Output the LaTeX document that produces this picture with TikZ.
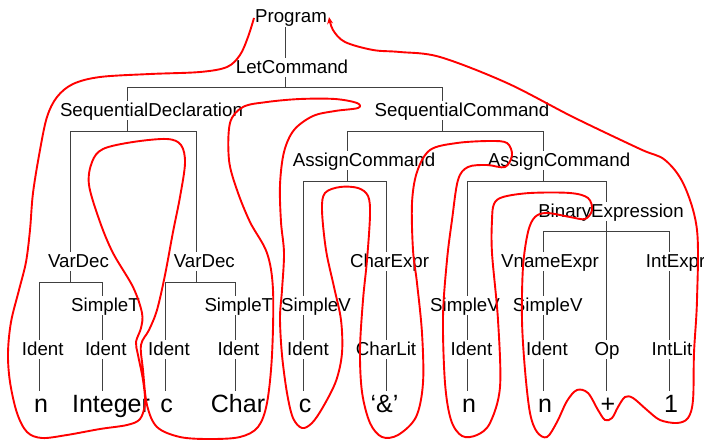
\documentclass[tikz,border=0pt]{standalone}
\usepackage{fontspec}
\setmainfont{Liberation Sans}
\usetikzlibrary{arrows.meta}
\definecolor{tourred}{rgb}{1,0,0}
\definecolor{linegray}{rgb}{.25,.25,.25}

\tikzset{
  lbl/.style = {inner sep=0pt, anchor=base, text height=15pt, text depth=4pt,
                font=\fontsize{18.7}{20}\selectfont},
  tok/.style = {inner sep=0pt, anchor=base, text height=21pt, text depth=2pt,
                font=\fontsize{25}{28}\selectfont},
  branch/.style = {linegray, line width=.8pt},
  tour/.style = {tourred, line width=1.9pt, line join=round,
                 -{Stealth[length=7pt, width=6pt]}}
}

\begin{document}
\begin{tikzpicture}[x=1pt, y=-1pt]
\useasboundingbox (0,0) rectangle (704,439);

%%%%%%%%%%%%%%% labels %%%%%%%%%%%%%%%%
\node[lbl] (prog)  at (291,23)    {Program};
\node[lbl] (letc)  at (292,73)    {LetCommand};
\node[lbl] (sdecl) at (151.5,116) {SequentialDeclaration};
\node[lbl] (scmd)  at (462,116)   {SequentialCommand};
\node[lbl] (acmdA) at (364,166)   {AssignCommand};
\node[lbl] (acmdB) at (559,166)   {AssignCommand};
\node[lbl] (binx)  at (611,217)   {BinaryExpression};
\node[lbl] (vdecA) at (78.5,267)  {VarDec};
\node[lbl] (vdecB) at (204.3,267) {VarDec};
\node[lbl] (chx)   at (389.5,267) {CharExpr};
\node[lbl] (vnx)   at (550,267)   {VnameExpr};
\node[lbl] (intx)  at (675.6,267) {IntExpr};
\node[lbl] (stA)   at (105.5,311) {SimpleT};
\node[lbl] (stB)   at (238.8,311) {SimpleT};
\node[lbl] (svA)   at (316,311)   {SimpleV};
\node[lbl] (svB)   at (465,311)   {SimpleV};
\node[lbl] (svC)   at (547.7,311) {SimpleV};
\node[lbl] (idA)   at (42.7,355)  {Ident};
\node[lbl] (idB)   at (105.8,355) {Ident};
\node[lbl] (idC)   at (169,355)   {Ident};
\node[lbl] (idD)   at (238.5,355) {Ident};
\node[lbl] (idE)   at (308,355)   {Ident};
\node[lbl] (chl)   at (386,355)   {CharLit};
\node[lbl] (idF)   at (471.5,355) {Ident};
\node[lbl] (idG)   at (547,355)   {Ident};
\node[lbl] (op)    at (607,355)   {Op};
\node[lbl] (ilit)  at (672,355)   {IntLit};

%%%%%%%%%%%%%%% tokens %%%%%%%%%%%%%%%%
\node[tok] (lfA) at (41,412)    {n};
\node[tok] (lfB) at (111,412)   {Integer};
\node[tok] (lfC) at (166.7,412) {c};
\node[tok] (lfD) at (238,412)   {Char};
\node[tok] (lfE) at (305,412)   {c};
\node[tok] (lfF) at (384.5,412) {‘\&’};
\node[tok] (lfG) at (469,412)   {n};
\node[tok] (lfH) at (545,412)   {n};
\node[tok] (lfI) at (608,412)   {+};
\node[tok] (lfJ) at (671,412)   {1};

%%%%%%%%%%%%%%% branches %%%%%%%%%%%%%%%%
\draw[branch] (prog.south -| 285,0) -- (letc.north -| 285,0);
\draw[branch] (letc.south -| 285,0) -- (285,87);
\draw[branch] (sdecl.north -| 127,0) -- (127,87) -- (442,87) -- (scmd.north -| 442,0);

\draw[branch] (sdecl.south -| 127,0) -- (127,131.7);
\draw[branch] (vdecA.north -| 70.7,0) -- (70.7,131.7) -- (196.7,131.7) -- (vdecB.north -| 196.7,0);

\draw[branch] (vdecA.south -| 70.7,0) -- (70.7,282.3);
\draw[branch] (idA.north -| 39.3,0) -- (39.3,282.3) -- (102.3,282.3) -- (stA.north -| 102.3,0);
\draw[branch] (stA.south -| 102.3,0) -- (idB.north -| 102.3,0);
\draw[branch] (idA.south -| 39.3,0) -- (lfA.north -| 39.3,0);
\draw[branch] (idB.south -| 102.3,0) -- (lfB.north -| 102.3,0);

\draw[branch] (vdecB.south -| 196.7,0) -- (196.7,282.3);
\draw[branch] (idC.north -| 165.7,0) -- (165.7,282.3) -- (235,282.3) -- (stB.north -| 235,0);
\draw[branch] (stB.south -| 235,0) -- (idD.north -| 235,0);
\draw[branch] (idC.south -| 165.7,0) -- (lfC.north -| 165.7,0);
\draw[branch] (idD.south -| 235,0) -- (lfD.north -| 235,0);

\draw[branch] (scmd.south -| 442,0) -- (442,131.7);
\draw[branch] (acmdA.north -| 347.5,0) -- (347.5,131.7) -- (543,131.7) -- (acmdB.north -| 543,0);

\draw[branch] (acmdA.south -| 347.5,0) -- (347.5,181.7);
\draw[branch] (svA.north -| 303,0) -- (303,181.7) -- (386,181.7) -- (chx.north -| 386,0);
\draw[branch] (svA.south -| 303,0) -- (idE.north -| 303,0);
\draw[branch] (idE.south -| 303,0) -- (lfE.north -| 303,0);
\draw[branch] (chx.south -| 386,0) -- (chl.north -| 386,0);
\draw[branch] (chl.south -| 386,0) -- (lfF.north -| 386,0);

\draw[branch] (acmdB.south -| 543,0) -- (543,181.7);
\draw[branch] (svB.north -| 467.7,0) -- (467.7,181.7) -- (606,181.7) -- (binx.north -| 606,0);
\draw[branch] (svB.south -| 467.7,0) -- (idF.north -| 467.7,0);
\draw[branch] (idF.south -| 467.7,0) -- (lfG.north -| 467.7,0);

\draw[branch] (binx.south -| 606,0) -- (op.north -| 606,0);
\draw[branch] (vnx.north -| 543,0) -- (543,231.7) -- (669,231.7) -- (intx.north -| 669,0);
\draw[branch] (vnx.south -| 543,0) -- (svC.north -| 543,0);
\draw[branch] (svC.south -| 543,0) -- (idG.north -| 543,0);
\draw[branch] (idG.south -| 543,0) -- (lfH.north -| 543,0);
\draw[branch] (op.south -| 606,0) -- (lfI.north -| 606,0);
\draw[branch] (intx.south -| 669,0) -- (ilit.north -| 669,0);
\draw[branch] (ilit.south -| 669,0) -- (lfJ.north -| 669,0);

%%%%%%%%%%%%%%% tour %%%%%%%%%%%%%%%%
\draw[tour] plot[smooth, tension=.55] coordinates {
  (254,18) (248,37) (240,55) (227,67) (200,72) (150,74) (100,77) (73,84)
  (57,97) (47,117) (40,150) (33,193) (30,230) (26,262) (19,290) (11,322)
  (8,353) (10,382) (17,413) (27,432) (42,438) (67,435) (100,429) (127,425)
  (140,419) (145,403) (143,380) (138,355) (136,342) (141,328) (142,313)
  (133,287) (113,253) (100,222) (89,185) (92,162) (103,149) (133,142)
  (167,139) (181,145) (185,163) (180,197) (173,232) (165,275) (157,310)
  (149,330) (141,345) (143,370) (147,405) (157,427) (180,437) (210,439)
  (240,437) (258,427) (267,403) (272,355) (273,290) (267,253) (250,222)
  (237,190) (229,160) (230,123) (243,107) (267,102) (300,99) (335,99)
  (357,103) (358,108) (335,111) (313,116) (294,130) (284,152) (280,185)
  (281,222) (284,253) (282,290) (280,318) (282,355) (287,393) (293,418)
  (302,428) (312,423) (323,407) (336,381) (342,353) (341,320) (334,287)
  (326,250) (322,210) (325,193) (340,187) (358,188) (368,196) (370,215)
  (367,260) (363,300) (360,350) (362,392) (370,423) (382,437) (398,435)
  (416,417) (423,383) (422,333) (417,283) (413,250) (412,203) (417,172)
  (430,150) (457,143) (490,141) (507,143) (512,155) (505,167) (487,165)
  (468,167) (458,180) (452,220) (447,260) (443,317) (445,383) (451,420)
  (462,436) (477,435) (490,423) (500,387) (498,320) (492,253) (492,220)
  (494,204) (503,197) (530,193) (570,193) (588,198) (592,210) (585,219)
  (570,217) (547,213) (535,217) (528,232) (523,267) (522,320) (525,370)
  (530,413) (537,432) (547,437) (557,422) (567,401) (577,390) (588,393)
  (598,410) (605,420) (612,418) (618,407) (625,397) (633,398) (647,410)
  (660,420) (677,423) (688,418) (693,400) (694,353) (697,300) (697,230)
  (684,185) (665,160) (640,149) (573,117) (507,83) (440,57) (400,52)
  (373,50) (345,42) (333,30) (329,17)};

\end{tikzpicture}
\end{document}
